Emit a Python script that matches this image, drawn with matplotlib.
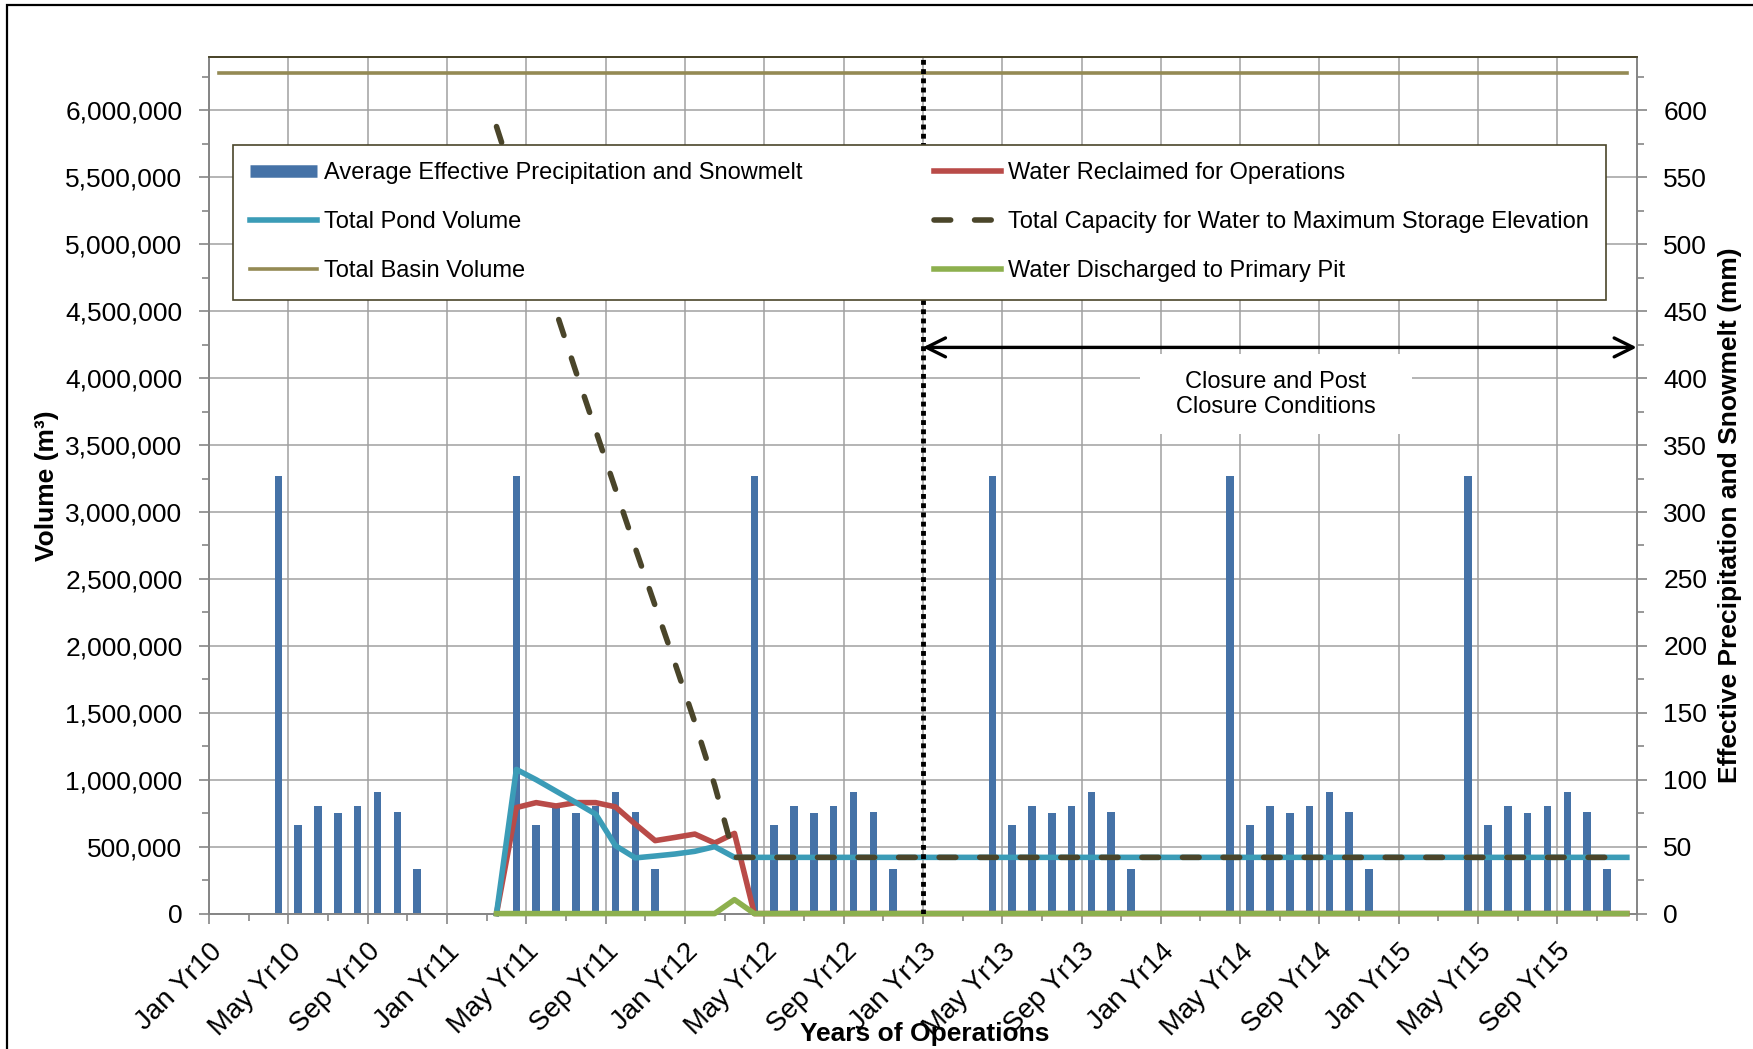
import numpy as np
import matplotlib
matplotlib.use('Agg')
import matplotlib.pyplot as plt
import matplotlib.transforms as mtransforms
from matplotlib.lines import Line2D
from matplotlib.patches import Rectangle
from matplotlib.ticker import FuncFormatter, MultipleLocator

plt.rcParams['font.family'] = ['Liberation Sans', 'DejaVu Sans']

years = ['Yr10', 'Yr11', 'Yr12', 'Yr13', 'Yr14', 'Yr15']
month_names = ['Jan', 'Feb', 'Mar', 'Apr', 'May', 'Jun',
               'Jul', 'Aug', 'Sep', 'Oct', 'Nov', 'Dec']

# average effective precipitation and snowmelt (mm), Jan..Dec, same each year
precip_by_month = [0, 0, 0, 327, 66, 80, 75, 80, 91, 76, 33, 0]

basin_volume = 6280000  # m3

# operating series start in Mar Yr11 (month index 14)
ops_start = 14
pond_volume = [0, 1077000, 1000000, 915000, 830000, 743000, 507000,
               416000, 430000, 445000, 465000, 500000, 420000] + [420000] * 45
water_reclaimed = [0, 792000, 829000, 804000, 829000, 829000, 797000,
                   668000, 545000, 569000, 594000, 527000, 599000] + [0] * 45
capacity = [5880000, 5420000, 4960000, 4500000, 4050000, 3610000, 3170000,
            2730000, 2300000, 1870000, 1430000, 960000, 420000] + [420000] * 45
discharged = [0] * 12 + [104000] + [0] * 45

closure_month = 36      # Jan Yr13
closure_arrow_y = 4230000
closure_text_x = 53.8
closure_text_y = 3880000

c_bar = '#4572A7'
c_pond = '#3B9CB7'
c_red = '#B94B48'
c_basin = '#948A54'
c_cap = '#4A452A'
c_green = '#8DB04E'
c_grid = '#A0A0A0'
c_axis = '#868686'

n_months = 12 * len(years)
months = np.arange(n_months) + 0.5
ops_x = months[ops_start:]
precip = precip_by_month * len(years)

fig = plt.figure(figsize=(17.53, 10.49), dpi=100)
ax = fig.add_axes([0.1192, 0.1291, 0.8145, 0.8166])
ax2 = ax.twinx()

# bars and grid on the secondary axis (drawn below the lines)
ax2.bar(months, precip, width=0.38, color=c_bar, zorder=2)
ax2.xaxis.set_visible(True)
ax2.tick_params(axis='x', which='both', bottom=False, top=False,
                labelbottom=False, labeltop=False)
ax2.grid(True, which='major', axis='both', color=c_grid, lw=1.1)
ax2.set_axisbelow(True)
ax2.set_ylim(0, 640)
ax2.yaxis.set_major_locator(MultipleLocator(50))
ax2.yaxis.set_minor_locator(MultipleLocator(25))

ax.set_zorder(ax2.get_zorder() + 1)
ax.patch.set_visible(False)

l_basin, = ax.plot(months, [basin_volume] * n_months, color=c_basin, lw=2.6,
                   zorder=3, clip_on=False)
l_red, = ax.plot(ops_x, water_reclaimed, color=c_red, lw=4.0, zorder=3,
                 clip_on=False)
l_pond, = ax.plot(ops_x, pond_volume, color=c_pond, lw=4.0, zorder=4,
                  clip_on=False)
l_cap, = ax.plot(ops_x, capacity, color=c_cap, lw=4.0, zorder=5,
                 dashes=(3.0, 4.3), dash_capstyle='round', clip_on=False)
l_green, = ax.plot(ops_x, discharged, color=c_green, lw=4.0, zorder=6,
                   clip_on=False)

ax.axvline(closure_month, color='black', lw=3.5, ls=(0, (1, 0.9)), zorder=7)
ax.annotate('', xy=(closure_month, closure_arrow_y),
            xytext=(n_months, closure_arrow_y),
            arrowprops=dict(arrowstyle='<->', lw=2.4, color='black',
                            mutation_scale=34, shrinkA=0, shrinkB=0),
            annotation_clip=False, zorder=8)
ax.text(closure_text_x, closure_text_y,
        'Closure and Post\n   Closure Conditions   ', ha='center',
        va='center', fontsize=17, zorder=8,
        bbox=dict(boxstyle='square,pad=0.7', fc='white', ec='none'))

ax.set_xlim(0, n_months)
ax.set_ylim(0, 6400000)
ax.yaxis.set_major_locator(MultipleLocator(500000))
ax.yaxis.set_minor_locator(MultipleLocator(250000))
ax.yaxis.set_major_formatter(FuncFormatter(lambda v, p: f'{v:,.0f}'))

tick_pos = list(range(0, n_months, 4))
tick_lab = [month_names[m % 12] + ' ' + years[m // 12] for m in tick_pos]
ax.set_xticks(tick_pos)
ax.set_xticklabels(tick_lab, rotation=45, ha='right', va='top',
                   rotation_mode='anchor', fontsize=20)
ax.xaxis.set_minor_locator(MultipleLocator(2))
offset = mtransforms.ScaledTranslation(0.24, 0.03, fig.dpi_scale_trans)
for lab in ax.get_xticklabels():
    lab.set_transform(lab.get_transform() + offset)

for a in (ax, ax2):
    a.tick_params(axis='both', which='both', direction='out', color=c_axis,
                  width=1.2)
    a.tick_params(axis='both', which='major', length=7)
    a.tick_params(axis='both', which='minor', length=5)
    a.tick_params(axis='y', labelsize=19, pad=12)
    for s in a.spines.values():
        s.set_color(c_axis)
        s.set_linewidth(1.3)
    a.spines['top'].set_color(c_cap)
ax.tick_params(axis='x', pad=11)

ax.set_ylabel('Volume (m³)', fontsize=19, fontweight='bold')
ax.yaxis.set_label_coords(-0.105, 0.5)
ax2.set_ylabel('Effective Precipitation and Snowmelt (mm)', fontsize=19,
               fontweight='bold')
ax2.yaxis.set_label_coords(1.057, 0.4655)
fig.text(0.5275, 0.0143, 'Years of Operations', ha='center', va='center',
         fontsize=19, fontweight='bold')

bar_handle = Line2D([], [], color=c_bar, lw=9, solid_capstyle='butt')
handles = [bar_handle, l_pond, l_basin, l_red, l_cap, l_green]
labels = ['Average Effective Precipitation and Snowmelt', 'Total Pond Volume',
          'Total Basin Volume', 'Water Reclaimed for Operations',
          'Total Capacity for Water to Maximum Storage Elevation',
          'Water Discharged to Primary Pit']
leg = ax.legend(handles, labels, ncol=2, loc='upper left', mode='expand',
                bbox_to_anchor=(0.0165, 0.721, 0.962, 0.1763),
                fontsize=17, handlelength=2.84, handletextpad=0.3,
                labelspacing=1.14, borderpad=0.74, fancybox=False,
                framealpha=1, edgecolor=c_cap, borderaxespad=0)
leg.get_frame().set_linewidth(1.2)
leg.set_zorder(10)

fig.patches.append(Rectangle((0.004, -0.05), 1.2, 1.0452, fill=False,
                             lw=1.6, ec='black', transform=fig.transFigure))

fig.savefig('out.png', dpi=100)
